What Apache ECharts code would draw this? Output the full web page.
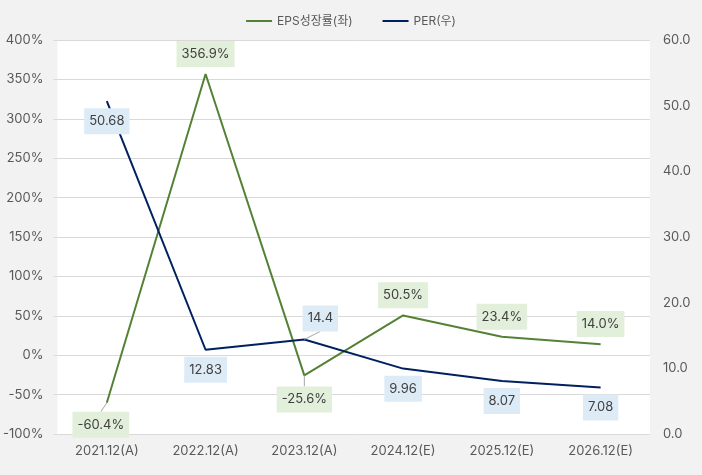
<!DOCTYPE html>
<html>
<head>
    <meta charset="UTF-8">
    <title></title>
    <script type="text/javascript" src="https://cdn.jsdelivr.net/npm/echarts@6/dist/echarts.min.js"></script>
    <style type="text/css">
        body { margin: 0; background: #f2f2f2; }
        #chart { width: 702px; height: 475px; }
    </style>
</head>
<body>
<div id="chart"></div>
<script type="text/javascript">
    var categories = ['2021.12(A)', '2022.12(A)', '2023.12(A)', '2024.12(E)', '2025.12(E)', '2026.12(E)'];
    var epsGrowth = [-60.4, 356.9, -25.6, 50.5, 23.4, 14.0];
    var per = [50.68, 12.83, 14.4, 9.96, 8.07, 7.08];
    // label side for each point
    var epsPos = ['bottom', 'top', 'bottom', 'top', 'top', 'top'];
    var perPos = ['bottom', 'bottom', 'top', 'bottom', 'bottom', 'bottom'];

    var font = 'Inter, "Noto Sans CJK KR", sans-serif';
    var chart = echarts.init(document.getElementById('chart'));

    // labels pushed a bit away from the line get a thin leader line
    var epsShift = { 0: [-6, 2], 2: [0, 4] };
    var perShift = { 2: [16, -1] };

    function labelled(values, pos, shift, fmt) {
        return values.map(function (v, i) {
            return {
                value: v,
                label: {
                    position: pos[i],
                    formatter: fmt(v)
                },
                labelLine: { show: !!shift[i] }
            };
        });
    }

    function shiftLayout(map) {
        return function (params) {
            var s = map[params.dataIndex];
            if (!s) return {};
            return { dx: s[0], dy: s[1] };
        };
    }

    chart.setOption({
        backgroundColor: '#f2f2f2',
        textStyle: { fontFamily: font },
        legend: {
            top: 10,
            left: 'center',
            itemGap: 30,
            itemWidth: 26,
            itemHeight: 2,
            textStyle: { color: '#595959', fontSize: 12, fontFamily: font },
            data: [
                { name: 'EPS성장률(좌)', icon: 'rect' },
                { name: 'PER(우)', icon: 'rect' }
            ]
        },
        grid: {
            left: 57, right: 52, top: 40, bottom: 41,
            show: true, backgroundColor: '#ffffff', borderWidth: 0
        },
        xAxis: {
            type: 'category',
            data: categories,
            axisLine: { show: false },
            axisTick: { show: false },
            axisLabel: { color: '#595959', fontSize: 13, margin: 11 }
        },
        yAxis: [{
            type: 'value',
            min: -100, max: 400, interval: 50,
            axisLine: { show: false },
            axisTick: { show: true, length: 4, lineStyle: { color: '#d9d9d9' } },
            splitLine: { lineStyle: { color: '#d9d9d9' } },
            axisLabel: { color: '#595959', fontSize: 13, margin: 14, formatter: '{value}%' }
        }, {
            type: 'value',
            min: 0, max: 60, interval: 10,
            axisLine: { show: false },
            axisTick: { show: false },
            splitLine: { show: false },
            axisLabel: {
                color: '#595959', fontSize: 13, margin: 13,
                formatter: function (v) { return v.toFixed(1); }
            }
        }],
        series: [{
            name: 'EPS성장률(좌)',
            type: 'line',
            yAxisIndex: 0,
            showSymbol: true,
            symbol: 'circle',
            symbolSize: 0.1,
            lineStyle: { color: '#548235', width: 2 },
            itemStyle: { color: '#548235' },
            label: {
                show: true, color: '#404040', fontSize: 13, distance: 7, lineHeight: 14,
                backgroundColor: '#e2efda', padding: [6, 5, 6, 5]
            },
            labelLine: { show: false, lineStyle: { color: '#a6a6a6', width: 1 } },
            labelLayout: shiftLayout(epsShift),
            data: labelled(epsGrowth, epsPos, epsShift, function (v) { return v.toFixed(1) + '%'; })
        }, {
            name: 'PER(우)',
            type: 'line',
            yAxisIndex: 1,
            showSymbol: true,
            symbol: 'circle',
            symbolSize: 0.1,
            lineStyle: { color: '#002060', width: 2 },
            itemStyle: { color: '#002060' },
            label: {
                show: true, color: '#404040', fontSize: 13, distance: 7, lineHeight: 14,
                backgroundColor: '#ddebf7', padding: [6, 5, 6, 5]
            },
            labelLine: { show: false, lineStyle: { color: '#a6a6a6', width: 1 } },
            labelLayout: shiftLayout(perShift),
            data: labelled(per, perPos, perShift, function (v) { return String(v); })
        }]
    });
</script>
</body>
</html>
